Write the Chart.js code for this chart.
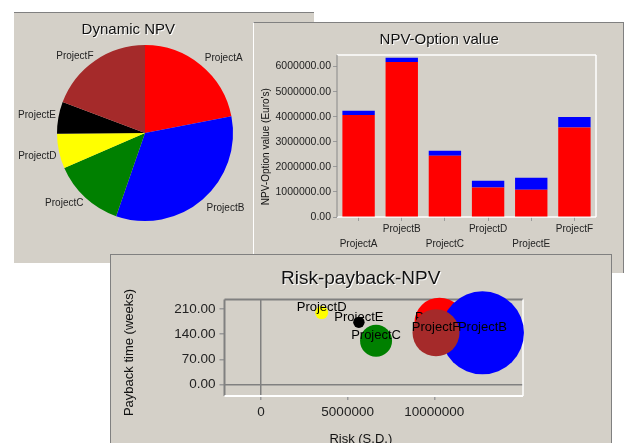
<!DOCTYPE html>
<html>
<head>
<meta charset="utf-8">
<script src="https://cdn.jsdelivr.net/npm/chart.js@4.4.0/dist/chart.umd.min.js"></script>
<style>
  html, body { margin: 0; padding: 0; background: #fff; width: 624px; height: 443px; overflow: hidden; }
  .panel { position: absolute; background: #d4d0c8; box-sizing: border-box; overflow: hidden; }
  .panel canvas { display: block; }
  #p-pie { left: 14px; top: 12px; width: 300px; height: 251px; border-top: 1px solid #808080; }
  #p-bar { left: 253px; top: 22px; width: 371px; height: 251px; border-top: 1px solid #808080; border-left: 1px solid #fff; border-right: 1px solid #808080; }
  #p-bub { left: 110px; top: 254px; width: 502px; height: 200px; border: 1px solid #808080; border-bottom: none; }
</style>
</head>
<body>
<div class="panel" id="p-pie"><canvas id="pie-chart" width="300" height="250"></canvas></div>
<div class="panel" id="p-bar"><canvas id="bar-chart" width="369" height="250"></canvas></div>
<div class="panel" id="p-bub"><canvas id="bubble-chart" width="500" height="199"></canvas></div>
<script>
// ─── Data ───
const projects = ['ProjectA', 'ProjectB', 'ProjectC', 'ProjectD', 'ProjectE', 'ProjectF'];
const colors = ['#ff0000', '#0000ff', '#008000', '#ffff00', '#000000', '#a52a2a'];
// dynamic NPV (red part of the bars, also the pie)
const npv = [4070000, 6180000, 2440000, 1180000, 1090000, 3570000];
// option value stacked on top (blue part)
const optionValue = [170000, 170000, 200000, 270000, 480000, 420000];
const barTicks = [0, 1000000, 2000000, 3000000, 4000000, 5000000, 6000000];
// risk / payback bubbles
const risk = [10300000, 12780000, 6640000, 3500000, 5650000, 10100000];
const payback = [172, 144, 122, 200, 173, 144];
const bubbleSize = [25, 41.5, 16, 6.5, 5.7, 23.5];
const riskTicks = [0, 5000000, 10000000];
const paybackTicks = [0, 70, 140, 210];

// ─── Defaults ───
const FONT = '"Liberation Sans", Arial, Helvetica, sans-serif';
Chart.defaults.font.family = FONT;
Chart.defaults.color = '#222';
Chart.defaults.animation = false;
Chart.defaults.events = [];
Chart.defaults.plugins.legend.display = false;
Chart.defaults.plugins.tooltip.enabled = false;

// ─── Small plugins ───
// free texts: panel titles (with the white drop shadow) and axis titles
const texts = items => ({
  id: 'texts',
  afterDraw(chart) {
    const ctx = chart.ctx;
    items.forEach(t => {
      ctx.save();
      ctx.translate(t.x, t.y);
      if (t.rot) ctx.rotate(t.rot);
      ctx.font = t.font + ' ' + FONT;
      ctx.textAlign = 'center';
      ctx.textBaseline = t.base || 'alphabetic';
      if (t.shadow) { ctx.fillStyle = '#fff'; ctx.fillText(t.text, 1, 1); }
      ctx.fillStyle = '#111';
      ctx.fillText(t.text, 0, 0);
      ctx.restore();
    });
  }
});

// plot frame, one colour/width per side
const frame = sides => ({
  id: 'frame',
  beforeDatasetsDraw(chart) {
    const { ctx, chartArea: a } = chart;
    const seg = {
      top: [a.left, a.top, a.right, a.top],
      right: [a.right, a.top, a.right, a.bottom],
      bottom: [a.left, a.bottom, a.right, a.bottom],
      left: [a.left, a.top, a.left, a.bottom],
    };
    ctx.save();
    Object.entries(sides).forEach(([k, [color, w]]) => {
      const [x1, y1, x2, y2] = seg[k];
      ctx.strokeStyle = color;
      ctx.lineWidth = w;
      ctx.beginPath(); ctx.moveTo(x1, y1); ctx.lineTo(x2, y2); ctx.stroke();
    });
    ctx.restore();
  }
});

const pieLabels = {
  id: 'pieLabels',
  afterDatasetsDraw(chart) {
    const ctx = chart.ctx;
    ctx.save();
    ctx.font = '10px ' + FONT;
    ctx.fillStyle = '#222';
    ctx.textBaseline = 'middle';
    chart.getDatasetMeta(0).data.forEach((arc, i) => {
      const { x, y, startAngle, endAngle, outerRadius } = arc.getProps(['x', 'y', 'startAngle', 'endAngle', 'outerRadius'], true);
      const mid = (startAngle + endAngle) / 2;
      const right = Math.cos(mid) >= 0;
      const d = outerRadius + (right ? 6 : 2.5);
      ctx.textAlign = right ? 'left' : 'right';
      ctx.fillText(chart.data.labels[i], x + Math.cos(mid) * d, y + Math.sin(mid) * d + (Math.sin(mid) > 0 ? 4 : -2));
    });
    ctx.restore();
  }
};

const bubbleLabels = {
  id: 'bubbleLabels',
  afterDatasetDraw(chart, args) {
    const el = args.meta.data[0];
    if (!el) return;
    const ctx = chart.ctx;
    ctx.save();
    ctx.font = '13px ' + FONT;
    ctx.fillStyle = '#000';
    ctx.textAlign = 'center';
    ctx.textBaseline = 'middle';
    ctx.fillText(chart.data.datasets[args.index].label, el.x, el.y - 5);
    ctx.restore();
  }
};

// ─── Dynamic NPV pie ───
new Chart(document.getElementById('pie-chart'), {
  type: 'pie',
  data: { labels: projects, datasets: [{ data: npv, backgroundColor: colors, borderWidth: 0, hoverOffset: 0 }] },
  options: { responsive: false, layout: { padding: { left: 43, top: 32, right: 81, bottom: 42 } } },
  plugins: [pieLabels, texts([{ text: 'Dynamic NPV', x: 114.3, y: 20.7, font: '15px', shadow: true }])],
});

// ─── NPV-Option value bars ───
new Chart(document.getElementById('bar-chart'), {
  type: 'bar',
  data: {
    labels: projects.map((p, i) => i % 2 ? [p, ''] : ['', p]),
    datasets: [
      { label: 'Dynamic NPV', data: npv, backgroundColor: '#ff0000' },
      { label: 'Option value', data: optionValue, backgroundColor: '#0000ff' },
    ],
  },
  options: {
    responsive: false,
    layout: { padding: { top: 32, right: 27, left: 0, bottom: 0 } },
    datasets: { bar: { barPercentage: 0.75, categoryPercentage: 1, borderWidth: 0 } },
    scales: {
      x: {
        stacked: true,
        afterFit: s => { s.height = 56; },
        border: { display: false },
        grid: { offset: false, drawOnChartArea: false, tickLength: 4, tickColor: '#9a9a9a' },
        ticks: { font: { size: 10, lineHeight: 1.5 }, padding: 1, maxRotation: 0, autoSkip: false, color: '#222' },
      },
      y: {
        stacked: true, min: 0, max: 6460000,
        afterBuildTicks: s => { s.ticks = barTicks.map(v => ({ value: v })); },
        afterFit: s => { s.width = 83; },
        border: { display: false },
        grid: { drawOnChartArea: false, tickLength: 4, tickColor: '#9a9a9a' },
        ticks: { font: { size: 10.5 }, padding: 2, color: '#222', callback: v => v.toFixed(2) },
      },
    },
  },
  plugins: [
    frame({ top: ['#fff', 1.5], right: ['#fff', 1.5], bottom: ['#fff', 1.5], left: ['#888', 1] }),
    texts([
      { text: 'NPV-Option value', x: 185.2, y: 21.3, font: '15px', shadow: true },
      { text: "NPV-Option value (Euro's)", x: 12.3, y: 123.7, rot: -Math.PI / 2, font: '10px', base: 'middle' },
    ]),
  ],
});

// ─── Risk-payback-NPV bubbles ───
new Chart(document.getElementById('bubble-chart'), {
  type: 'bubble',
  data: {
    datasets: projects.map((p, i) => ({
      label: p,
      data: [{ x: risk[i], y: payback[i], r: bubbleSize[i] }],
      backgroundColor: colors[i],
      borderWidth: 0,
      clip: false,
      order: projects.length - i,
    })),
  },
  options: {
    responsive: false,
    layout: { padding: { top: 44.5, right: 88, left: 0, bottom: 0 } },
    scales: {
      x: {
        type: 'linear', min: -2106000, max: 15120000,
        afterBuildTicks: s => { s.ticks = riskTicks.map(v => ({ value: v })); },
        afterFit: s => { s.height = 58; },
        border: { display: false },
        grid: { color: c => (c.tick && c.tick.value === 0 ? '#808080' : 'rgba(0,0,0,0)'), lineWidth: 1.5, tickColor: '#9a9a9a', tickLength: 4 },
        ticks: { font: { size: 13.5 }, padding: 4, color: '#222', maxRotation: 0, callback: v => String(v) },
      },
      y: {
        type: 'linear', min: -31.3, max: 236.3,
        afterBuildTicks: s => { s.ticks = paybackTicks.map(v => ({ value: v })); },
        afterFit: s => { s.width = 113.5; },
        border: { display: false },
        grid: { color: c => (c.tick && c.tick.value === 0 ? '#808080' : 'rgba(0,0,0,0)'), lineWidth: 1.5, tickColor: '#9a9a9a', tickLength: 5 },
        ticks: { font: { size: 13.5 }, padding: 4, color: '#222', callback: v => v.toFixed(2) },
      },
    },
  },
  plugins: [
    frame({ top: ['#808080', 2], left: ['#808080', 2], right: ['#fff', 1.5], bottom: ['#fff', 2] }),
    bubbleLabels,
    texts([
      { text: 'Risk-payback-NPV', x: 249.7, y: 29.3, font: '19px', shadow: true },
      { text: 'Payback time (weeks)', x: 18, y: 97.5, rot: -Math.PI / 2, font: '13px', base: 'middle' },
      { text: 'Risk (S.D.)', x: 249.8, y: 187.5, font: '13px' },
    ]),
  ],
});
</script>
</body>
</html>
